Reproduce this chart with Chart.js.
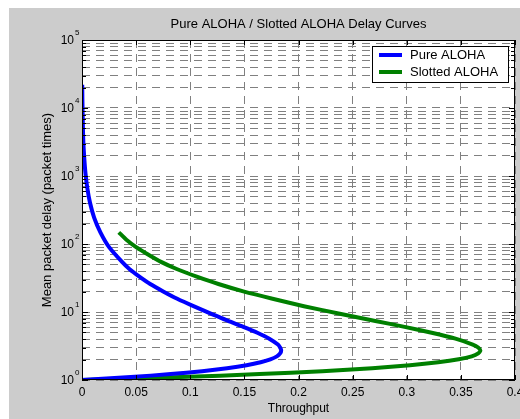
<!DOCTYPE html>
<html>
<head>
<meta charset="utf-8">
<script src="https://cdn.jsdelivr.net/npm/chart.js@4.4.0/dist/chart.umd.min.js"></script>
<style>
  html, body { margin: 0; padding: 0; background: #fff; }
</style>
</head>
<body>
<canvas id="graphic" width="520" height="419"></canvas>
<script>
// values (throughput S, mean delay D)
const pureThroughput = [0, 0.045, 0.082, 0.111, 0.134, 0.152, 0.165, 0.174, 0.180, 0.183, 0.184, 0.183, 0.181,
  0.173, 0.162, 0.149, 0.135, 0.119, 0.103, 0.088, 0.075, 0.063, 0.053, 0.044, 0.037, 0.025, 0.017, 0.0112,
  0.0074, 0.0049, 0.0032, 0.0021, 0.0013, 0.00086, 0.0006, 0.00036, 0.0002];
const pureDelay = [1, 1.105, 1.221, 1.35, 1.492, 1.649, 1.822, 2.014, 2.226, 2.46, 2.718, 3.004, 3.32,
  4.055, 4.953, 6.05, 7.389, 9.488, 12.18, 15.64, 20.09, 25.79, 33.12, 42.52, 54.6, 90.02, 148.4, 244.7,
  403.4, 665.1, 1097, 1808, 2981, 4915, 8103, 13360, 22026];

const slottedThroughput = [0, 0.091, 0.164, 0.222, 0.268, 0.303, 0.329, 0.348, 0.360, 0.366, 0.368, 0.366, 0.361,
  0.345, 0.323, 0.298, 0.271, 0.237, 0.205, 0.176, 0.149, 0.126, 0.106, 0.088, 0.073, 0.061, 0.050, 0.041, 0.034];
const slottedDelay = [1, 1.105, 1.221, 1.35, 1.492, 1.649, 1.822, 2.014, 2.226, 2.46, 2.718, 3.004, 3.32,
  4.055, 4.953, 6.05, 7.389, 9.488, 12.18, 15.64, 20.09, 25.79, 33.12, 42.52, 54.6, 70.11, 90.02, 115.6, 148.4];

const seriesNames = ['Pure ALOHA', 'Slotted ALOHA'];
const xTickLabels = ['0', '0.05', '0.1', '0.15', '0.2', '0.25', '0.3', '0.35', '0.4'];
const yTickValues = [1, 10, 100, 1000, 10000, 100000];
const yTickExponents = ['0', '1', '2', '3', '4', '5'];
const chartTitle = 'Pure ALOHA / Slotted ALOHA Delay Curves';
const xTitle = 'Throughput';
const yTitle = 'Mean packet delay (packet times)';

const FONT = '"Liberation Sans", Arial, Helvetica, sans-serif';

function toPoints(xs, ys) {
  return xs.map((x, i) => ({ x: x, y: ys[i] }));
}

// matlab-ish figure: grey frame, white axes, black box with inward ticks
const matlabLook = {
  id: 'matlabLook',
  beforeDraw(chart) {
    const ctx = chart.ctx;
    const a = chart.chartArea;
    ctx.save();
    ctx.fillStyle = '#fff';
    ctx.fillRect(0, 0, chart.width, chart.height);
    ctx.fillStyle = '#cccccc';
    ctx.fillRect(9, 8, chart.width - 9, chart.height - 8);
    ctx.fillStyle = '#fff';
    ctx.fillRect(a.left, a.top, a.right - a.left, a.bottom - a.top);
    ctx.restore();
  },
  afterDraw(chart) {
    const ctx = chart.ctx;
    const a = chart.chartArea;
    const xs = chart.scales.x;
    const ys = chart.scales.y;
    ctx.save();
    ctx.strokeStyle = '#000';
    ctx.lineWidth = 1;

    // inward ticks
    ctx.beginPath();
    ys.ticks.forEach(t => {
      const y = Math.round(ys.getPixelForValue(t.value)) + 0.5;
      const len = yTickValues.includes(t.value) ? 6 : 4;
      ctx.moveTo(a.left, y); ctx.lineTo(a.left + len, y);
      ctx.moveTo(a.right, y); ctx.lineTo(a.right - len, y);
    });
    xs.ticks.forEach(t => {
      const x = Math.round(xs.getPixelForValue(t.value)) + 0.5;
      ctx.moveTo(x, a.bottom); ctx.lineTo(x, a.bottom - 5);
      ctx.moveTo(x, a.top); ctx.lineTo(x, a.top + 5);
    });
    ctx.stroke();

    // box
    ctx.strokeRect(a.left + 0.5, a.top + 0.5, a.right - a.left - 1, a.bottom - a.top - 1);

    // y tick labels 10^n
    ctx.fillStyle = '#000';
    ctx.textBaseline = 'middle';
    yTickValues.forEach((v, i) => {
      const y = ys.getPixelForValue(v);
      ctx.font = '12px ' + FONT;
      ctx.textAlign = 'right';
      ctx.fillText('10', a.left - 8, y + 1);
      ctx.font = '8px ' + FONT;
      ctx.textAlign = 'left';
      ctx.fillText(yTickExponents[i], a.left - 7, y - 7);
    });

    // title
    ctx.font = '13px ' + FONT;
    ctx.textAlign = 'center';
    ctx.fillText(chartTitle, (a.left + a.right) / 2, 24);

    // legend
    const lx = 372, ly = 46, lw = 136, lh = 36;
    ctx.fillStyle = '#fff';
    ctx.fillRect(lx, ly, lw, lh);
    ctx.strokeStyle = '#000';
    ctx.strokeRect(lx + 0.5, ly + 0.5, lw, lh);
    chart.data.datasets.forEach((ds, i) => {
      const y = ly + 9 + i * 17;
      ctx.strokeStyle = ds.borderColor;
      ctx.lineWidth = 4;
      ctx.beginPath();
      ctx.moveTo(lx + 7, y); ctx.lineTo(lx + 30, y);
      ctx.stroke();
      ctx.fillStyle = '#000';
      ctx.font = '13px ' + FONT;
      ctx.textAlign = 'left';
      ctx.fillText(ds.label, lx + 38, y + 0.5);
    });
    ctx.restore();
  }
};

const graphic = document.getElementById('graphic').getContext('2d');

const chart = new Chart(graphic, {
  type: 'scatter',
  data: {
    datasets: [{
      label: seriesNames[0],
      data: toPoints(pureThroughput, pureDelay),
      borderColor: '#0000ff',
      backgroundColor: '#0000ff',
      borderWidth: 4,
      showLine: true,
      pointRadius: 0,
      tension: 0.2
    }, {
      label: seriesNames[1],
      data: toPoints(slottedThroughput, slottedDelay),
      borderColor: '#008000',
      backgroundColor: '#008000',
      borderWidth: 4,
      showLine: true,
      pointRadius: 0,
      tension: 0.2
    }]
  },
  options: {
    responsive: false,
    animation: false,
    layout: { padding: { left: 0, top: 40, right: 5, bottom: 0 } },
    plugins: {
      legend: { display: false },
      tooltip: { enabled: false },
      title: { display: false }
    },
    scales: {
      x: {
        type: 'linear',
        min: 0,
        max: 0.4,
        ticks: {
          stepSize: 0.05,
          autoSkip: false,
          maxRotation: 0,
          padding: 5,
          color: '#000',
          font: { family: FONT, size: 12 },
          callback: (value, index) => xTickLabels[index]
        },
        grid: { color: '#808080', lineWidth: 1, drawTicks: false },
        border: { display: false, dash: [8, 6] },
        title: {
          display: true, text: xTitle, color: '#000',
          font: { family: FONT, size: 12 },
          padding: { top: 0, bottom: 3 }
        },
        afterFit: s => { s.height = 39; s.paddingLeft = 0; s.paddingRight = 0; }
      },
      y: {
        type: 'logarithmic',
        min: 1,
        max: 100000,
        ticks: { display: false, autoSkip: false },
        grid: { color: '#808080', lineWidth: 1, drawTicks: false },
        border: { display: false, dash: [8, 6] },
        title: {
          display: true, text: yTitle, color: '#000',
          font: { family: FONT, size: 13 },
          padding: { top: 40, bottom: 0 }
        },
        afterBuildTicks: s => {
          // keep 1..9 per decade
          s.ticks = s.ticks.filter(t => {
            const e = Math.pow(10, Math.floor(Math.log10(t.value) + 1e-9));
            const m = t.value / e;
            return Math.abs(m - Math.round(m)) < 1e-6;
          });
        },
        afterFit: s => { s.width = 82; }
      }
    }
  },
  plugins: [matlabLook]
});
</script>
</body>
</html>
